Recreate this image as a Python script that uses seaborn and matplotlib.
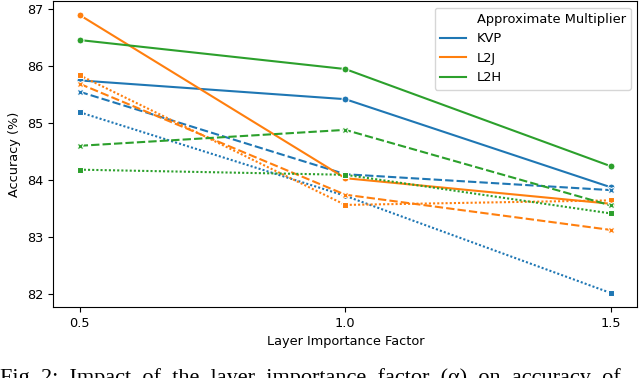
import matplotlib
matplotlib.use("Agg")
import matplotlib.pyplot as plt
import pandas as pd
import seaborn as sns

# valores
factors = [0.5, 1.0, 1.5]
multipliers = ["KVP", "L2J", "L2H"]
configs = ["Config 1", "Config 2", "Config 3"]

kvp_solid = [85.75, 85.42, 83.87]
kvp_dashed = [85.55, 84.10, 83.82]
kvp_dotted = [85.19, 83.72, 82.01]
l2j_solid = [86.90, 84.03, 83.58]
l2j_dashed = [85.69, 83.74, 83.12]
l2j_dotted = [85.84, 83.56, 83.64]
l2h_solid = [86.46, 85.95, 84.24]
l2h_dashed = [84.60, 84.88, 83.55]
l2h_dotted = [84.18, 84.09, 83.41]

series = {
    ("KVP", "Config 1"): kvp_solid,
    ("KVP", "Config 2"): kvp_dashed,
    ("KVP", "Config 3"): kvp_dotted,
    ("L2J", "Config 1"): l2j_solid,
    ("L2J", "Config 2"): l2j_dashed,
    ("L2J", "Config 3"): l2j_dotted,
    ("L2H", "Config 1"): l2h_solid,
    ("L2H", "Config 2"): l2h_dashed,
    ("L2H", "Config 3"): l2h_dotted,
}

rows = []
for (mult, cfg), vals in series.items():
    for f, v in zip(factors, vals):
        rows.append({"Layer Importance Factor": f, "Accuracy (%)": v,
                     "Approximate Multiplier": mult, "Config": cfg})
df = pd.DataFrame(rows)

plt.rcParams["font.size"] = 9.3

fig = plt.figure(figsize=(6.4, 3.78), dpi=100)
ax = fig.add_axes([0.083, 0.188, 0.913, 0.809])

sns.lineplot(data=df, x="Layer Importance Factor", y="Accuracy (%)",
             hue="Approximate Multiplier", style="Config",
             hue_order=multipliers, style_order=configs,
             markers=["o", "X", "s"], markersize=5, ax=ax)

ax.set_xticks(factors)
ax.set_xticklabels(["0.5", "1.0", "1.5"])

# so a parte de cor vai para a legenda
handles, labels = ax.get_legend_handles_labels()
ax.legend(handles[:4], labels[:4], loc="upper right", fontsize=9.4)

# legenda da figura cortada na borda inferior, como no original
fig.text(0.0, -0.014, "Fig. 2:  Impact  of  the  layer  importance  factor  (\u03b1)  on  accuracy  of",
         family="Liberation Serif", fontsize=16, ha="left", va="baseline")

fig.savefig("out.png", dpi=100)
